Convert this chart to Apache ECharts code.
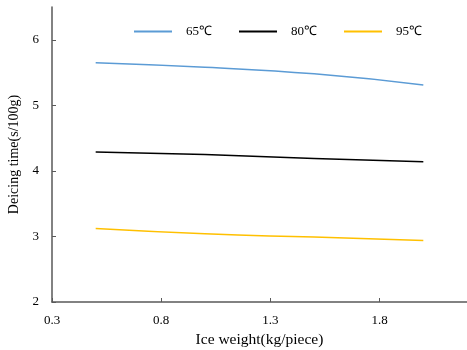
<!DOCTYPE html>
<html>
<head>
<meta charset="utf-8">
<script src="https://cdn.jsdelivr.net/npm/echarts@6/dist/echarts.min.js"></script>
<style>
  html, body { margin: 0; padding: 0; background: #fff; }
  #chart { width: 467px; height: 350px; }
</style>
</head>
<body>
<div id="chart"></div>
<script>
// Ice weight (kg/piece) at which deicing time was measured
const iceWeight = [0.5, 1.0, 1.5, 2.0];
// Deicing time (s/100g) per temperature
const t65 = [5.65, 5.58, 5.48, 5.31];
const t80 = [4.29, 4.25, 4.19, 4.14];
const t95 = [3.12, 3.04, 2.99, 2.94];
const seriesNames = ['65℃', '80℃', '95℃'];
const seriesColors = ['#5b9bd5', '#000000', '#ffc000'];

const font = '"Liberation Serif", "Times New Roman", serif';
const axisColor = '#595959';

const toPairs = (ys) => iceWeight.map((x, i) => [x, ys[i]]);

const chart = echarts.init(document.getElementById('chart'));
chart.setOption({
  animation: false,
  textStyle: { fontFamily: font },
  grid: { left: 52, right: 0, top: 7, bottom: 48, containLabel: false, outerBoundsMode: 'none' },
  legend: {
    top: 25,
    left: 134,
    padding: 0,
    itemWidth: 38,
    itemHeight: 2,
    itemGap: 27,
    icon: 'rect',
    textStyle: { fontFamily: font, fontSize: 13, color: '#000', padding: [0, 0, 0, 9] },
    data: seriesNames
  },
  xAxis: {
    type: 'value',
    min: 0.3,
    max: 2.2,
    interval: 0.5,
    name: 'Ice weight(kg/piece)',
    nameLocation: 'middle',
    nameGap: 29,
    nameTextStyle: { fontFamily: font, fontSize: 15.5, color: '#000' },
    axisLine: { show: true, lineStyle: { color: axisColor, width: 1.5 } },
    axisTick: { show: true, inside: true, length: 4, lineStyle: { color: axisColor } },
    axisLabel: {
      fontFamily: font, fontSize: 13, color: '#000', margin: 12,
      showMaxLabel: false,
      formatter: (v) => v.toFixed(1)
    },
    splitLine: { show: false }
  },
  yAxis: {
    type: 'value',
    min: 2,
    max: 6.5,
    interval: 1,
    name: 'Deicing time(s/100g)',
    nameLocation: 'middle',
    nameGap: 24,
    nameTextStyle: { fontFamily: font, fontSize: 14, color: '#000' },
    axisLine: { show: true, lineStyle: { color: axisColor, width: 1.5 } },
    axisTick: { show: true, inside: true, length: 4, lineStyle: { color: axisColor } },
    axisLabel: { fontFamily: font, fontSize: 13, color: '#000', margin: 13, showMaxLabel: false },
    splitLine: { show: false }
  },
  series: [t65, t80, t95].map((ys, i) => ({
    name: seriesNames[i],
    type: 'line',
    smooth: true,
    showSymbol: false,
    symbol: 'none',
    data: toPairs(ys),
    lineStyle: { color: seriesColors[i], width: 1.5 },
    itemStyle: { color: seriesColors[i] }
  }))
});
</script>
</body>
</html>
